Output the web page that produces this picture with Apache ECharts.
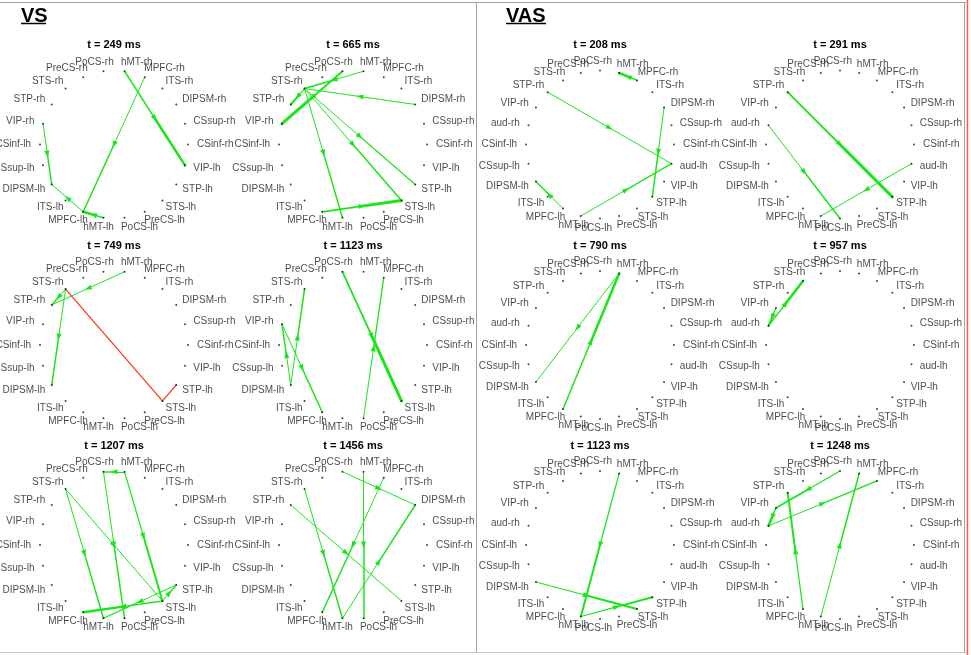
<!DOCTYPE html>
<html><head><meta charset="utf-8">
<script src="https://cdn.jsdelivr.net/npm/echarts@6/dist/echarts.min.js"></script>
<style>html,body{margin:0;padding:0;background:#fff}#chart{width:971px;height:655px}</style>
</head><body><div id="chart"></div>
<script>
// Regions around each circle, clockwise from the top
const nodesVS = ['hMT-rh','MPFC-rh','ITS-rh','DIPSM-rh','CSsup-rh','CSinf-rh','VIP-lh','STP-lh','STS-lh','PreCS-lh','PoCS-lh',
                 'hMT-lh','MPFC-lh','ITS-lh','DIPSM-lh','CSsup-lh','CSinf-lh','VIP-rh','STP-rh','STS-rh','PreCS-rh','PoCS-rh'];
const nodesVAS = ['PoCS-rh','hMT-rh','MPFC-rh','ITS-rh','DIPSM-rh','CSsup-rh','CSinf-rh','aud-lh','VIP-lh','STP-lh','STS-lh','PreCS-lh',
                  'PoCS-lh','hMT-lh','MPFC-lh','ITS-lh','DIPSM-lh','CSsup-lh','CSinf-lh','aud-rh','VIP-rh','STP-rh','STS-rh','PreCS-rh'];

// Time points (ms)
const timesVS = [249, 665, 749, 1123, 1207, 1456];
const timesVAS = [208, 291, 790, 957, 1123, 1248];

// Directed connections: [source, target, strength, sign]  (sign -1 = negative influence)
const vs249 = [['hMT-rh','VIP-lh',2.5,1],['MPFC-rh','MPFC-lh',1.5,1],['VIP-rh','DIPSM-lh',1.5,1],['MPFC-lh','DIPSM-lh',1,1],['hMT-lh','MPFC-lh',2.5,1]];
const vs665 = [['hMT-rh','STS-rh',1.5,1],['PoCS-rh','VIP-rh',3,1],['STS-rh','STP-rh',2,1],['DIPSM-rh','STS-rh',1,1],
               ['STS-rh','STP-lh',1.2,1],['STS-rh','STS-lh',1.5,1],['STS-rh','hMT-lh',1.5,1],['MPFC-lh','STS-lh',3,1]];
const vs749 = [['hMT-rh','STP-rh',1,1],['STS-rh','STP-rh',1.5,1],['STS-rh','DIPSM-lh',1.5,1],['STS-rh','STS-lh',1.3,-1],['STS-lh','STP-lh',1.3,-1]];
const vs1123 = [['PoCS-rh','STS-lh',3,1],['PoCS-lh','MPFC-rh',1.3,1],['DIPSM-lh','STS-rh',1.5,1],['DIPSM-lh','VIP-rh',1.5,1],['VIP-rh','MPFC-lh',1.5,1]];
const vs1207 = [['hMT-rh','PoCS-rh',1.5,1],['PoCS-rh','PoCS-lh',1.5,1],['hMT-rh','STS-lh',2,1],['STS-rh','hMT-lh',1.5,1],['STS-rh','STS-lh',1,1],
                ['STS-lh','MPFC-lh',2.5,1],['STP-lh','hMT-lh',1.3,1],['STS-lh','STP-lh',1.3,1]];
const vs1456 = [['PoCS-rh','DIPSM-rh',1,1],['hMT-rh','PoCS-lh',1.5,1],['MPFC-rh','MPFC-lh',1.5,1],['hMT-lh','DIPSM-rh',1.5,1],
                ['STS-rh','hMT-lh',1.5,1],['STP-rh','STS-lh',1,1]];
const vas208 = [['MPFC-rh','hMT-rh',2.5,1],['STP-rh','aud-lh',1,1],['hMT-lh','aud-lh',1.3,1],['DIPSM-rh','STP-lh',1.5,1],['MPFC-lh','DIPSM-lh',1.5,1]];
const vas291 = [['STP-rh','STP-lh',3,1],['aud-rh','PoCS-lh',1.5,1],['aud-lh','hMT-lh',1,1]];
const vas790 = [['hMT-rh','DIPSM-lh',1,1],['MPFC-lh','hMT-rh',2.5,1]];
const vas957 = [['aud-rh','STS-rh',2.5,1],['VIP-rh','aud-rh',2,1]];
const vas1123 = [['hMT-rh','hMT-lh',2,1],['DIPSM-lh','STS-lh',2,1],['hMT-lh','STP-lh',2,1]];
const vas1248 = [['PoCS-rh','VIP-rh',2,1],['VIP-rh','aud-rh',2.5,1],['aud-rh','MPFC-rh',1.5,1],['MPFC-lh','STP-rh',2,1],['hMT-lh','hMT-rh',1.5,1]];

const panelsVS = [vs249, vs665, vs749, vs1123, vs1207, vs1456];
const panelsVAS = [vas208, vas291, vas790, vas957, vas1123, vas1248];

const GREEN = '#19e619', RED = '#ff3b1f';
const R = 74;               // circle radius in px
const colVS = [114, 353], colVAS = [600, 840], rowY = [144.5, 345, 545];
const FONT = '"Liberation Sans", Arial, Helvetica, sans-serif';

const grids = [], xAxes = [], yAxes = [], series = [], graphics = [];

function angleOf(nodes, i, half) { return (i + (half ? 0.5 : 0)) * 2 * Math.PI / nodes.length; }

function addPanel(nodes, half, edges, time, cx, cy) {
  const gi = grids.length;
  grids.push({left: cx - R, top: cy - R, width: 2 * R, height: 2 * R, containLabel: false});
  xAxes.push({gridIndex: gi, type: 'value', min: -1, max: 1, show: false});
  yAxes.push({gridIndex: gi, type: 'value', min: -1, max: 1, show: false});
  const pos = {};
  const nodeData = nodes.map((n, i) => {
    const t = angleOf(nodes, i, half);
    const s = Math.sin(t), c = Math.cos(t);
    pos[n] = [s, c];
    const right = s > 1e-6;
    const dx = right ? 9 * s - 5 * c * c : 9 * s + 12 * Math.pow(c, 4);
    const dy = -9.5 * c;
    return {name: n, value: [s, c], label: {position: [dx + 1, dy + 1], align: right ? 'left' : 'right'}};
  });
  // connections: the half leading into the target is drawn at full strength
  const segs = [];
  edges.forEach(e => {
    const a = pos[e[0]], b = pos[e[1]];
    const m = [(a[0] + b[0]) / 2, (a[1] + b[1]) / 2];
    if (e[3] > 0) {
      segs.push({coords: [a, m], lineStyle: {width: Math.max(1, e[2] * 0.6), color: GREEN}});
      segs.push({coords: [m, b], lineStyle: {width: e[2], color: GREEN}});
    } else {
      segs.push({coords: [a, b], lineStyle: {width: e[2], color: RED}});
    }
  });
  series.push({
    type: 'lines', coordinateSystem: 'cartesian2d', xAxisIndex: gi, yAxisIndex: gi, silent: true, z: 2,
    lineStyle: {opacity: 1, cap: 'round'}, data: segs
  });
  // arrowheads at the middle of each positive connection
  series.push({
    type: 'scatter', xAxisIndex: gi, yAxisIndex: gi, silent: true, z: 3, symbol: 'triangle', symbolSize: [5, 7],
    itemStyle: {color: GREEN, opacity: 1},
    data: edges.filter(e => e[3] > 0).map(e => {
      const a = pos[e[0]], b = pos[e[1]];
      const dx = b[0] - a[0], dy = b[1] - a[1];
      return {value: [(a[0] + b[0]) / 2, (a[1] + b[1]) / 2], symbolRotate: Math.atan2(-dx, dy) * 180 / Math.PI};
    })
  });
  // region dots and names
  series.push({
    type: 'scatter', xAxisIndex: gi, yAxisIndex: gi, silent: true, z: 4, symbolSize: 2,
    itemStyle: {color: '#111'},
    label: {show: true, formatter: '{b}', color: '#1a1a1a', fontSize: 10, fontFamily: FONT, verticalAlign: 'middle'},
    data: nodeData
  });
  graphics.push({type: 'text', x: cx, y: cy - 99.5, silent: true,
    style: {text: 't = ' + time + ' ms', font: 'bold 11px ' + FONT, fill: '#000', align: 'center', verticalAlign: 'middle'}});
}

panelsVS.forEach((ed, k) => addPanel(nodesVS, true, ed, timesVS[k], colVS[k % 2], rowY[Math.floor(k / 2)]));
panelsVAS.forEach((ed, k) => addPanel(nodesVAS, false, ed, timesVAS[k], colVAS[k % 2], rowY[Math.floor(k / 2)]));

// panel headings and frames
[['VS', 21], ['VAS', 506]].forEach(([txt, x]) => {
  graphics.push({type: 'text', x: x, y: 16, silent: true,
    style: {text: txt, font: 'bold 20px ' + FONT, fill: '#000', align: 'left', verticalAlign: 'middle'}});
  graphics.push({type: 'line', silent: true, shape: {x1: x, y1: 23.5, x2: x + (txt === 'VS' ? 25 : 40), y2: 23.5},
    style: {stroke: '#000', lineWidth: 1.5}});
});
graphics.push({type: 'line', silent: true, shape: {x1: 0, y1: 2.5, x2: 966, y2: 2.5}, style: {stroke: '#a0a0a0', lineWidth: 1}});
graphics.push({type: 'line', silent: true, shape: {x1: 476.5, y1: 2, x2: 476.5, y2: 653}, style: {stroke: '#a0a0a0', lineWidth: 1}});
graphics.push({type: 'line', silent: true, shape: {x1: 0, y1: 652.5, x2: 966, y2: 652.5}, style: {stroke: '#c8c8c8', lineWidth: 1}});
graphics.push({type: 'line', silent: true, shape: {x1: 964.5, y1: 2, x2: 964.5, y2: 653}, style: {stroke: '#a0a0a0', lineWidth: 1}});
graphics.push({type: 'line', silent: true, shape: {x1: 967.5, y1: 0, x2: 967.5, y2: 655}, style: {stroke: '#ff5a3c', lineWidth: 1.5}});

const chart = echarts.init(document.getElementById('chart'), null, {renderer: 'canvas'});
chart.setOption({
  animation: false, backgroundColor: '#fff',
  grid: grids, xAxis: xAxes, yAxis: yAxes, series: series, graphic: graphics
});
</script></body></html>
